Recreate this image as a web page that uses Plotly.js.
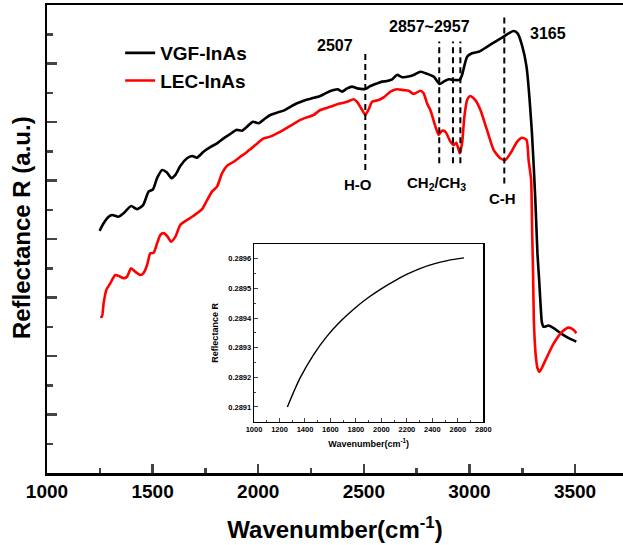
<!DOCTYPE html>
<html>
<head>
<meta charset="utf-8">
<script src="https://cdn.plot.ly/plotly-3.0.1.min.js"></script>
<style>html,body{margin:0;padding:0;background:#fff;}#chart{width:623px;height:545px;}</style>
</head>
<body>
<div id="chart"></div>
<script>
// ---- Main spectra (reflectance, arbitrary units) ----
const vgfWavenumber = [1249,1268,1292,1308,1339,1363,1398,1426,1455,1481,1502,1521,1545,1568,1589,1608,1631,1663,1687,1710,1742,1773,1805,1836,1868,1896,1923,1947,1975,2002,2034,2057,2089,2120,2152,2184,2215,2255,2294,2318,2357,2376,2397,2421,2444,2468,2507,2531,2563,2586,2610,2634,2657,2681,2705,2736,2768,2791,2831,2859,2878,2902,2925,2954,2965,2989,3012,3044,3083,3123,3162,3190,3209,3228,3249,3270,3296,3312,3322,3330,3338,3343,3351,3375,3399,3431,3470,3506];
const vgfReflect    = [8.28,8.54,8.76,8.82,8.76,8.88,9.13,9.02,9.16,9.62,9.70,10.08,10.36,10.27,10.08,10.19,10.50,10.76,10.84,10.78,10.99,11.14,11.27,11.44,11.59,11.73,11.70,11.84,12.01,11.96,12.13,12.24,12.32,12.39,12.52,12.64,12.73,12.81,12.89,12.98,13.09,13.12,13.04,13.15,13.21,13.15,13.13,13.23,13.32,13.38,13.40,13.46,13.61,13.53,13.55,13.61,13.72,13.67,13.55,13.30,13.38,13.46,13.44,13.44,13.61,14.23,14.35,14.40,14.57,14.75,14.92,15.05,15.11,15.03,14.62,13.90,11.61,9.33,7.50,6.60,5.60,5.15,5.00,5.04,4.95,4.78,4.61,4.49];

const lecWavenumber = [1252,1260,1268,1281,1300,1323,1339,1363,1379,1398,1418,1442,1457,1474,1489,1505,1521,1537,1552,1571,1587,1608,1631,1663,1687,1710,1734,1758,1781,1805,1829,1852,1884,1915,1939,1963,1986,2010,2026,2057,2089,2120,2160,2199,2231,2262,2294,2341,2381,2421,2452,2468,2492,2507,2523,2539,2570,2594,2626,2657,2689,2712,2736,2768,2783,2799,2815,2839,2854,2870,2886,2910,2925,2938,2954,2965,2976,2989,3004,3028,3052,3083,3115,3146,3170,3194,3226,3249,3270,3280,3292,3297,3301,3305,3313,3322,3332,3360,3399,3439,3470,3494,3506];
const lecReflect    = [5.34,5.34,5.80,6.26,6.49,6.77,6.74,6.66,6.71,7.00,6.88,6.77,6.83,7.11,7.51,7.53,7.85,8.14,8.20,8.08,7.91,8.08,8.48,8.65,8.76,8.88,9.02,9.33,9.62,9.79,10.25,10.50,10.64,10.81,10.93,11.07,11.21,11.36,11.44,11.50,11.61,11.73,11.90,12.07,12.16,12.24,12.41,12.52,12.62,12.69,12.78,12.69,12.41,12.24,12.43,12.69,12.75,12.84,13.04,13.12,13.09,13.07,12.96,13.07,12.98,12.64,12.41,11.84,11.56,11.70,11.67,11.33,11.21,11.29,10.93,11.27,12.18,12.75,12.89,12.75,12.41,11.73,11.04,10.76,10.70,10.93,11.33,11.46,11.39,10.70,10.02,8.20,6.94,5.23,4.09,3.59,3.46,3.86,4.43,4.83,4.97,4.89,4.78];

// ---- Inset (calculated reflectance) ----
const insetWavenumber = [1262,1362,1467,1572,1677,1782,1887,1992,2097,2202,2307,2412,2517,2648];
const insetReflect    = [0.289100,0.289198,0.289276,0.289338,0.289388,0.289430,0.289466,0.289497,0.289524,0.289548,0.289568,0.289583,0.289594,0.289603];

// ---- Peak markers ----
const peakPositions  = [2507, 2857, 2922, 2957, 3165];
const peakLineTop    = [14.46, 14.75, 14.75, 14.75, 15.66];
const peakLineBottom = [10.36, 10.59, 10.59, 10.59, 9.90];

const labelTexts = ['2507', '2857~2957', '3165', 'H-O', 'CH<sub>2</sub>/CH<sub>3</sub>', 'C-H'];
const labelX     = [2364, 2813, 3374, 2474, 2845, 3158];
const labelY     = [14.63, 15.28, 15.03, 9.88, 9.90, 9.39];
const labelSize  = [16, 16, 16, 15, 15, 15];

const FONT = 'Arial, "Liberation Sans", sans-serif';

const traces = [
  {x: vgfWavenumber, y: vgfReflect, name: 'VGF-InAs', type: 'scatter', mode: 'lines',
   line: {color: '#000000', width: 2.6, shape: 'spline', smoothing: 0.6}, xaxis: 'x', yaxis: 'y'},
  {x: lecWavenumber, y: lecReflect, name: 'LEC-InAs', type: 'scatter', mode: 'lines',
   line: {color: '#ff0000', width: 2.6, shape: 'spline', smoothing: 0.6}, xaxis: 'x', yaxis: 'y'},
  {x: insetWavenumber, y: insetReflect, name: 'inset', showlegend: false, type: 'scatter', mode: 'lines',
   line: {color: '#000000', width: 1.4, shape: 'spline'}, xaxis: 'x2', yaxis: 'y2'}
];

const shapes = peakPositions.map((p, i) => ({
  type: 'line', xref: 'x', yref: 'y', x0: p, x1: p, y0: peakLineBottom[i], y1: peakLineTop[i],
  line: {color: '#000000', width: 2, dash: '6px,4px'}
}));

const annotations = labelTexts.map((t, i) => ({
  text: t, x: labelX[i], y: labelY[i], xref: 'x', yref: 'y', showarrow: false,
  xanchor: 'center', yanchor: 'middle',
  font: {family: FONT, size: labelSize[i], color: '#000', weight: 'bold'}
}));
// main y-axis title (placed as rotated text so it sits where the reference has it)
annotations.push({
  text: 'Reflectance R (a.u.)', xref: 'paper', yref: 'paper', x: -0.045, y: 0.5235,
  textangle: -90, showarrow: false, xanchor: 'center', yanchor: 'middle',
  font: {family: FONT, size: 24, color: '#000', weight: 'bold'}
});

const layout = {
  width: 623, height: 545,
  margin: {l: 47, r: 0, t: 5, b: 72},
  paper_bgcolor: '#ffffff', plot_bgcolor: '#ffffff',
  font: {family: FONT, color: '#000'},
  showlegend: true,
  legend: {x: 0.127, y: 0.938, xanchor: 'left', yanchor: 'top', bgcolor: 'rgba(0,0,0,0)',
           font: {family: FONT, size: 19, color: '#000', weight: 'bold'}},
  xaxis: {
    range: [1000, 3727], tick0: 1000, dtick: 500, ticks: 'inside', ticklen: 9, tickwidth: 2.5,
    showline: true, linewidth: 2.5, linecolor: '#000', mirror: true, showgrid: false, zeroline: false,
    minor: {dtick: 250, ticks: 'inside', ticklen: 5, tickwidth: 2.5, showgrid: false},
    tickfont: {family: FONT, size: 19, color: '#000', weight: 'bold'},
    title: {text: 'Wavenumber(cm<sup>-1</sup>)', standoff: 20, font: {family: FONT, size: 24, color: '#000', weight: 'bold'}}
  },
  yaxis: {
    range: [0, 16], tick0: 0, dtick: 2, ticks: 'inside', ticklen: 10, tickwidth: 2.5,
    showline: true, linewidth: 2.5, linecolor: '#000', mirror: false, showgrid: false, zeroline: false,
    showticklabels: false,
    minor: {dtick: 1, ticks: 'inside', ticklen: 6, tickwidth: 2.5, showgrid: false}
  },
  xaxis2: {
    domain: [0.3594, 0.7575], anchor: 'y2', range: [1000, 2800], tick0: 1000, dtick: 200,
    ticks: 'inside', ticklen: 4, tickwidth: 1, showline: true, linewidth: 1.3, linecolor: '#000', mirror: true,
    showgrid: false, zeroline: false,
    minor: {dtick: 100, ticks: 'inside', ticklen: 2, tickwidth: 1, showgrid: false},
    tickfont: {family: FONT, size: 7.5, color: '#000', weight: 'bold'},
    title: {text: 'Wavenumber(cm<sup>-1</sup>)', standoff: 7, font: {family: FONT, size: 9, color: '#000', weight: 'bold'}}
  },
  yaxis2: {
    domain: [0.1096, 0.4893], anchor: 'x2', range: [0.28905, 0.28965], tick0: 0.2891, dtick: 0.0001,
    tickformat: '.4f', ticks: 'inside', ticklen: 4, tickwidth: 1, showline: true, linewidth: 1.3, linecolor: '#000', mirror: true,
    showgrid: false, zeroline: false,
    minor: {dtick: 0.00005, ticks: 'inside', ticklen: 2, tickwidth: 1, showgrid: false},
    tickfont: {family: FONT, size: 7.5, color: '#000', weight: 'bold'},
    title: {text: 'Reflectance R', standoff: 8, font: {family: FONT, size: 9, color: '#000', weight: 'bold'}}
  },
  shapes: shapes,
  annotations: annotations
};

Plotly.newPlot('chart', traces, layout, {displayModeBar: false, staticPlot: true});
</script>
</body>
</html>
